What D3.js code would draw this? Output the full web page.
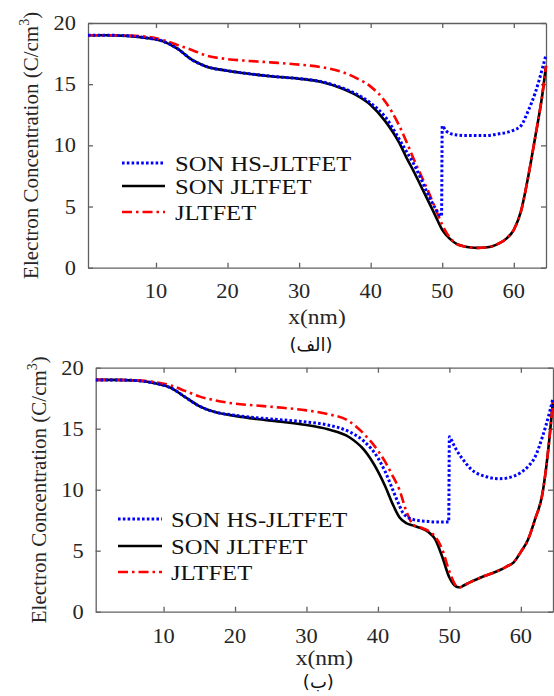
<!DOCTYPE html>
<html><head><meta charset="utf-8">
<script src="https://cdn.jsdelivr.net/npm/d3@7"></script>
<style>body{margin:0;background:#fff}svg{display:block}</style>
</head><body>
<svg id="c" width="554" height="696"></svg>
<script>
// ---- data ----
const seriesNames = ["SON HS-JLTFET", "SON JLTFET", "JLTFET"];
const xTicks = [10, 20, 30, 40, 50, 60];
const yTicks = [0, 5, 10, 15, 20];

const xTop = [0.5, 3, 6, 9, 11, 13, 15, 17, 20, 23, 26, 30, 33, 36, 38, 40, 42, 44, 45, 46, 47, 48, 49, 50, 51, 52, 53, 54, 55, 56, 57, 58, 59, 60, 61, 62, 63, 64, 64.5];
const topSon = [19.0, 19.0, 18.95, 18.75, 18.5, 17.9, 17.0, 16.45, 16.1, 15.85, 15.65, 15.45, 15.2, 14.65, 14.1, 13.3, 12.0, 10.2, 9.0, 7.9, 6.7, 5.5, 4.3, 3.1, 2.4, 1.95, 1.75, 1.65, 1.62, 1.65, 1.75, 2.0, 2.4, 3.1, 4.6, 7.4, 10.7, 14.2, 16.5];
const topJl = [19.0, 19.0, 18.97, 18.85, 18.6, 18.2, 17.8, 17.35, 17.05, 16.9, 16.78, 16.6, 16.4, 16.0, 15.5, 14.8, 13.6, 11.6, 10.3, 8.9, 7.6, 6.3, 4.9, 3.5, 2.5, 1.95, 1.75, 1.65, 1.62, 1.65, 1.75, 2.0, 2.4, 3.1, 4.6, 7.4, 10.7, 14.2, 16.5];
const xTopHs = [0.5, 3, 6, 9, 11, 13, 15, 17, 20, 23, 26, 30, 33, 36, 38, 40, 42, 44, 45, 46, 47, 48, 49, 49.9, 50, 50.5, 51, 52, 53, 54, 55, 56, 57, 58, 59, 60, 61, 62, 63, 64, 64.5];
const topHs = [19.0, 19.0, 18.95, 18.75, 18.5, 17.9, 17.0, 16.45, 16.1, 15.85, 15.65, 15.45, 15.22, 14.7, 14.2, 13.45, 12.35, 10.5, 9.5, 8.5, 7.3, 6.0, 4.9, 4.2, 11.6, 11.2, 11.0, 10.85, 10.8, 10.8, 10.8, 10.8, 10.85, 10.95, 11.05, 11.25, 11.6, 12.8, 14.3, 16.3, 17.4];

const xBot = [0.5, 3, 6, 9, 11, 13, 15, 17, 20, 23, 26, 30, 33, 36, 38, 40, 41, 42, 43, 44, 45, 46, 47, 48, 49, 50, 51, 51.5, 52, 53, 54, 55, 56, 57, 58, 59, 60, 61, 62, 63, 63.5, 64, 64.5];
const botSon = [19.0, 19.0, 18.95, 18.7, 18.35, 17.6, 16.85, 16.4, 16.05, 15.8, 15.6, 15.3, 14.95, 14.3, 13.3, 11.5, 10.3, 8.9, 7.75, 7.25, 7.05, 6.85, 6.55, 5.95, 4.5, 2.8, 2.05, 2.0, 2.15, 2.45, 2.7, 2.95, 3.15, 3.4, 3.7, 4.05, 4.9, 5.9, 7.6, 9.6, 11.6, 14.2, 17.3];
const botJl = [19.0, 19.0, 18.97, 18.8, 18.55, 18.1, 17.65, 17.35, 17.05, 16.9, 16.75, 16.5, 16.2, 15.6, 14.6, 13.2, 12.3, 11.2, 10.0, 8.2, 7.1, 6.9, 6.65, 6.15, 5.1, 3.3, 2.1, 2.0, 2.15, 2.45, 2.7, 2.95, 3.15, 3.4, 3.7, 4.05, 4.9, 5.9, 7.6, 9.6, 11.6, 14.2, 17.3];
const xBotHs = [0.5, 3, 6, 9, 11, 13, 15, 17, 20, 23, 26, 30, 33, 36, 38, 40, 41, 42, 43, 43.5, 44, 45, 46, 47, 48, 49, 49.9, 50, 50.5, 51, 52, 53, 54, 55, 56, 57, 58, 59, 60, 61, 62, 63, 64, 64.5];
const botHs = [19.0, 19.0, 18.95, 18.7, 18.35, 17.6, 16.85, 16.4, 16.1, 15.9, 15.75, 15.55, 15.3, 14.75, 14.0, 12.6, 11.5, 10.1, 8.7, 8.1, 7.8, 7.55, 7.45, 7.4, 7.35, 7.35, 7.35, 14.35, 13.8, 13.25, 12.4, 11.7, 11.3, 11.1, 10.95, 10.9, 10.95, 11.1, 11.4, 11.9, 12.7, 14.3, 16.3, 17.5];

const panelLabels = ["(الف)", "(ب)"];

// ---- drawing ----
const svg = d3.select("#c");
const SERIF = "'Liberation Serif','Times New Roman',serif";
const SX = 1.12; // horizontal stretch of the picture's text

function stretchedText(g, x, y, str, size, anchor, color) {
  return g.append("text")
    .attr("transform", `translate(${x},${y}) scale(${SX},1)`)
    .attr("text-anchor", anchor)
    .attr("font-family", SERIF).attr("font-size", size)
    .attr("fill", color || "#262626").text(str);
}

const panels = [
  {L: 88, R: 546, T: 23, B: 267.7, ylabX: 38, tickY: 298, xlabY: 324, capY: 351,
   hs: [xTopHs, topHs], son: [xTop, topSon], jl: [xTop, topJl],
   leg: {x1: 122, x2: 165, txt: 175, y: [163, 186, 212], size: 22}, cap: panelLabels[0]},
  {L: 95.7, R: 553, T: 367.7, B: 611.7, ylabX: 45.5, tickY: 643, xlabY: 665, capY: 688,
   hs: [xBotHs, botHs], son: [xBot, botSon], jl: [xBot, botJl],
   leg: {x1: 118, x2: 162, txt: 171, y: [519, 546, 572], size: 22}, cap: panelLabels[1]}
];

const styles = {
  hs: {color: "#0000ff", dash: "2.6,2.2", w: 3},
  son: {color: "#000000", dash: null, w: 2.6},
  jl: {color: "#ff0000", dash: "10,4,2.5,4", w: 2.6}
};

panels.forEach(p => {
  const x = d3.scaleLinear().domain([0.5, 64.5]).range([p.L, p.R]);
  const y = d3.scaleLinear().domain([0, 20]).range([p.B, p.T]);
  const g = svg.append("g");

  // axes
  const axCol = "#606060";
  const ab = g.append("g").attr("transform", `translate(0,${p.B})`)
    .call(d3.axisBottom(x).tickValues(xTicks).tickSizeInner(-5).tickSizeOuter(0).tickFormat(""));
  const at = g.append("g").attr("transform", `translate(0,${p.T})`)
    .call(d3.axisTop(x).tickValues(xTicks).tickSizeInner(-5).tickSizeOuter(0).tickFormat(""));
  const al = g.append("g").attr("transform", `translate(${p.L},0)`)
    .call(d3.axisLeft(y).tickValues(yTicks).tickSizeInner(-5).tickSizeOuter(0).tickFormat(""));
  const ar = g.append("g").attr("transform", `translate(${p.R},0)`)
    .call(d3.axisRight(y).tickValues(yTicks).tickSizeInner(-5).tickSizeOuter(0).tickFormat(""));
  [ab, at, al, ar].forEach(a => {
    a.selectAll("path,line").attr("stroke", axCol).attr("stroke-width", 1.3);
  });

  // tick labels
  xTicks.forEach(t => stretchedText(g, x(t), p.tickY, String(t), 20, "middle"));
  yTicks.forEach(t => stretchedText(g, p.L - 12, y(t) + 7, String(t), 20, "end"));

  // x label
  stretchedText(g, (p.L + p.R) / 2, p.xlabY, "x(nm)", 21, "middle");
  // panel caption
  g.append("text").attr("transform", `translate(${(p.L + p.R) / 2 - 6},${p.capY})`)
    .attr("text-anchor", "middle").attr("font-family", "'DejaVu Sans',sans-serif")
    .attr("font-size", 18).attr("fill", "#111").text(p.cap);

  // y label
  const yl = g.append("text")
    .attr("transform", `translate(${p.ylabX},${(p.T + p.B) / 2}) rotate(-90)`)
    .attr("text-anchor", "middle").attr("font-family", SERIF).attr("font-size", 21)
    .attr("fill", "#262626");
  yl.append("tspan").text("Electron Concentration (C/cm");
  yl.append("tspan").attr("font-size", 14).attr("dy", -9).text("3");
  yl.append("tspan").attr("dy", 9).text(")");

  // lines
  const clipId = "clip" + Math.round(p.T);
  svg.append("clipPath").attr("id", clipId).append("rect")
    .attr("x", p.L).attr("y", p.T - 3).attr("width", p.R - p.L + 2).attr("height", p.B - p.T + 3);
  const line = d3.line().x(d => x(d[0])).y(d => y(d[1])).curve(d3.curveMonotoneX);
  ["son", "jl", "hs"].forEach(k => {
    const [xs, vs] = p[k];
    const pts = xs.map((xv, i) => [xv, vs[i]]);
    const s = styles[k];
    g.append("path").attr("d", line(pts)).attr("fill", "none")
      .attr("stroke", s.color).attr("stroke-width", s.w)
      .attr("stroke-dasharray", s.dash).attr("clip-path", `url(#${clipId})`);
  });

  // legend
  ["hs", "son", "jl"].forEach((k, i) => {
    const s = styles[k];
    const yy = p.leg.y[i];
    g.append("line").attr("x1", p.leg.x1).attr("x2", p.leg.x2).attr("y1", yy).attr("y2", yy)
      .attr("stroke", s.color).attr("stroke-width", s.w).attr("stroke-dasharray", s.dash);
    stretchedText(g, p.leg.txt, yy + 7.5, seriesNames[i], p.leg.size, "start", "#111");
  });
});
</script>
</body></html>
